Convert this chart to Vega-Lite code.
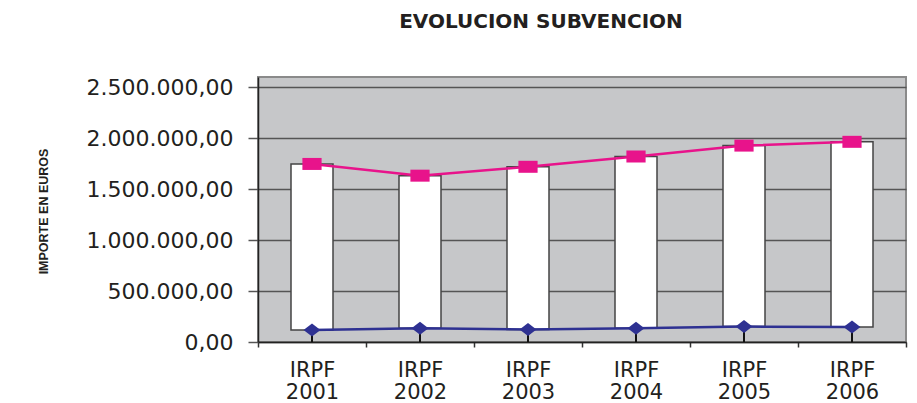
{
  "$schema": "https://vega.github.io/schema/vega-lite/v6.json",
  "autosize": "none",
  "width": 648,
  "height": 265,
  "padding": {"left": 258, "top": 77, "right": 11, "bottom": 61},
  "background": "white",
  "title": {
    "text": "EVOLUCION SUBVENCION",
    "font": "DejaVu Sans",
    "fontSize": 20,
    "fontWeight": "bold",
    "color": "#231F20",
    "anchor": "middle",
    "dx": -41,
    "offset": 44
  },
  "data": {
    "values": [
      {"ejercicio": "IRPF 2001", "valor_a": 1747000, "valor_b": 118000},
      {"ejercicio": "IRPF 2002", "valor_a": 1632000, "valor_b": 136000},
      {"ejercicio": "IRPF 2003", "valor_a": 1719000, "valor_b": 122000},
      {"ejercicio": "IRPF 2004", "valor_a": 1820000, "valor_b": 135000},
      {"ejercicio": "IRPF 2005", "valor_a": 1927000, "valor_b": 151000},
      {"ejercicio": "IRPF 2006", "valor_a": 1964000, "valor_b": 147000}
    ]
  },
  "encoding": {
    "x": {
      "field": "ejercicio",
      "type": "nominal",
      "sort": null,
      "scale": {"paddingInner": 0, "paddingOuter": 0},
      "axis": {
        "title": null,
        "labelAngle": 0,
        "labelExpr": "split(datum.label, ' ')",
        "labelFont": "DejaVu Sans",
        "labelFontSize": 21,
        "labelLineHeight": 22,
        "labelColor": "#231F20",
        "labelPadding": 12,
        "tickBand": "extent",
        "tickSize": 5,
        "tickColor": "#333",
        "tickWidth": 1.5,
        "domainColor": "#222",
        "domainWidth": 1.5,
        "grid": false
      }
    }
  },
  "layer": [
    {
      "mark": {"type": "bar", "size": 42, "fill": "white", "stroke": "#444", "strokeWidth": 1.5},
      "encoding": {
        "y": {
          "field": "valor_a",
          "type": "quantitative",
          "scale": {"domain": [0, 2500000]},
          "axis": {
            "title": "IMPORTE EN EUROS",
            "titleFont": "Liberation Sans Narrow, Liberation Sans",
            "titleFontSize": 12.5,
            "titleFontWeight": "bold",
            "titleColor": "#231F20",
            "titleAngle": -90,
            "titleX": -215,
            "titleY": 134,
            "titleAlign": "center",
            "titleBaseline": "middle",
            "values": [0, 500000, 1000000, 1500000, 2000000, 2500000],
            "format": ",.2f",
            "labelFont": "DejaVu Sans",
            "labelFontSize": 22,
            "labelColor": "#231F20",
            "labelPadding": 15,
            "tickSize": 10,
            "tickColor": "#555",
            "tickWidth": 1.5,
            "domainColor": "#222",
            "domainWidth": 1.5,
            "grid": true,
            "gridColor": "#555555",
            "gridWidth": 1.5
          }
        },
        "y2": {"field": "valor_b"}
      }
    },
    {
      "mark": {"type": "rule", "color": "#111", "strokeWidth": 2},
      "encoding": {
        "y": {"field": "valor_b", "type": "quantitative"},
        "y2": {"datum": 0}
      }
    },
    {
      "mark": {"type": "line", "color": "#E8138B", "strokeWidth": 2.5},
      "encoding": {"y": {"field": "valor_a", "type": "quantitative"}}
    },
    {
      "mark": {"type": "line", "color": "#2E3192", "strokeWidth": 2.5},
      "encoding": {"y": {"field": "valor_b", "type": "quantitative"}}
    },
    {
      "mark": {"type": "point", "filled": true, "opacity": 1, "color": "#E8138B", "shape": "M-1.6,-1H1.6V1H-1.6Z", "size": 144},
      "encoding": {"y": {"field": "valor_a", "type": "quantitative"}}
    },
    {
      "mark": {"type": "point", "filled": true, "opacity": 1, "color": "#2E3192", "shape": "M0,-1L1.3,0L0,1L-1.3,0Z", "size": 169},
      "encoding": {"y": {"field": "valor_b", "type": "quantitative"}}
    }
  ],
  "config": {
    "locale": {
      "number": {"decimal": ",", "thousands": ".", "grouping": [3], "currency": ["", " €"]}
    },
    "view": {"fill": "#C6C7C9", "stroke": "#8a8a8a", "strokeWidth": 2}
  }
}
